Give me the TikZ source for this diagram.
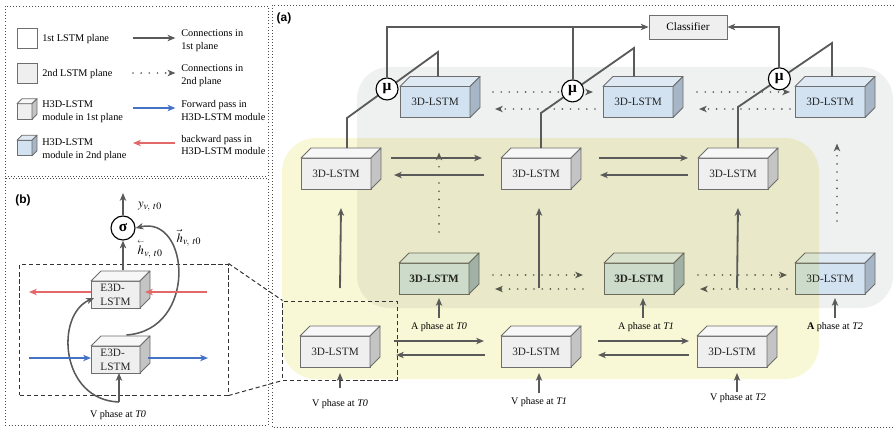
\documentclass[tikz,border=0pt]{standalone}
\usepackage{amsmath}
\usepackage{mathptmx}
\usepackage{fontspec}
\setmainfont{Liberation Serif}
\newfontfamily\panelfont{Liberation Sans}
\usetikzlibrary{arrows.meta,positioning,calc}
\definecolor{linegrey}{HTML}{5A5A5A}
\definecolor{cubeedge}{HTML}{6E6E6E}
\definecolor{greyfront}{HTML}{EFEFEF}
\definecolor{greytop}{HTML}{F7F7F7}
\definecolor{greyside}{HTML}{C4C4C4}
\definecolor{bluefront}{HTML}{D2E2F1}
\definecolor{bluetop}{HTML}{DFE9F4}
\definecolor{blueside}{HTML}{A6B6C6}
\definecolor{planegrey}{HTML}{EFF0F0}
\definecolor{planeyellow}{HTML}{F9F8D6}
\definecolor{fwdblue}{HTML}{4472C4}
\definecolor{bwdred}{HTML}{E4676A}

% depth faces (top and side) of a cube whose front is a node
\newcommand{\cubefaces}[3][10]{%
  \draw[cubeline,fill=#3top] (#2.north west) -- ([shift={(#1,-#1)}]#2.north west)
    -- ([shift={(#1,-#1)}]#2.north east) -- (#2.north east) -- cycle;
  \draw[cubeline,fill=#3side] (#2.north east) -- ([shift={(#1,-#1)}]#2.north east)
    -- ([shift={(#1,-#1)}]#2.south east) -- (#2.south east) -- cycle;
}

\begin{document}
\begin{tikzpicture}[x=0.025cm,y=-0.025cm,
    cube/.style={draw=cubeedge,line width=0.6pt,minimum width=1.75cm,minimum height=0.775cm,inner sep=0pt,outer sep=0pt,font=\fontsize{8}{9.5}\selectfont,text=black!85},
    ecube/.style={cube,minimum width=1.225cm,minimum height=0.675cm,align=left,font=\fontsize{8}{10}\selectfont},
    keycube/.style={cube,minimum width=0.375cm,minimum height=0.39cm},
    keybox/.style={draw=cubeedge,line width=0.6pt,minimum size=0.5cm,inner sep=0pt},
    cubeline/.style={draw=cubeedge,line width=0.6pt,line join=round},
    conn/.style={draw=linegrey,line width=1.3pt,-{Stealth[length=5.5pt,width=4.5pt,inset=1.5pt]}},
    dotconn/.style={conn,dash pattern=on 0pt off 5.8pt,line cap=round},
    fwd/.style={conn,draw=fwdblue,line width=1.6pt},
    bwd/.style={conn,draw=bwdred,line width=1.6pt},
    curve/.style={conn,line width=1.1pt},
    link/.style={draw=linegrey,line width=1.3pt},
    mu/.style={circle,draw=black,line width=0.8pt,fill=white,minimum size=0.55cm,inner sep=0pt,font=\bfseries\fontsize{11}{11}\selectfont},
    panel/.style={draw=black!70,line width=0.6pt,dash pattern=on 0.6pt off 1.6pt},
    zoomline/.style={draw=black!80,line width=0.7pt,dash pattern=on 3pt off 2pt},
    tag/.style={font=\panelfont\bfseries\fontsize{8.5}{10}\selectfont},
    key/.style={font=\fontsize{7.3}{9.2}\selectfont,anchor=west,align=left,inner sep=0pt},
    phase/.style={font=\fontsize{7.2}{8.5}\selectfont,inner sep=1pt},
    sym/.style={font=\fontsize{9}{10}\selectfont,inner sep=0pt}
  ]
    \useasboundingbox (0,0) rectangle (894,430);

    % Panel frames
    \draw[panel] (5,6) rectangle (268,176);
    \draw[panel] (5,178) rectangle (268,425);
    \draw[panel] (894,5) -| (272,427) -- (894,427);

    % Legend
    \node[keybox,fill=white] (k1) at (27,38) {};
    \node[keybox,fill=greyfront] (k2) at (27,73) {};
    \node[keycube,fill=greyfront] (k3) at (24.5,111.5) {};
    \cubefaces[5]{k3}{grey}
    \node[keycube,fill=bluefront] (k4) at (24.5,148) {};
    \cubefaces[5]{k4}{blue}
    \node[key] (t1) at (42,39) {1st LSTM plane};
    \node[key] (t2) at (42,74) {2nd LSTM plane};
    \node[key] (t3) at (42,111.5) {H3D-LSTM\\module in 1st plane};
    \node[key] (t4) at (42,150) {H3D-LSTM\\module in 2nd plane};
    \node[key] (t5) at (181,40.5) {Connections in\\1st plane};
    \node[key] (t6) at (181,76) {Connections in\\2nd plane};
    \node[key] (t7) at (181,110.5) {Forward pass in\\H3D-LSTM module};
    \node[key] (t8) at (181,145) {backward pass in\\H3D-LSTM module};
    \coordinate (ks1) at (133,38);
    \coordinate (ks2) at (133,73);
    \coordinate (ks3) at (133,108);
    \coordinate (ks4) at (133,143);
    \draw[conn,shorten >=4pt] (ks1) -- (ks1 -| t5.west);
    \draw[dotconn,shorten >=4pt] (ks2) -- (ks2 -| t6.west);
    \draw[fwd,shorten >=4pt] (ks3) -- (ks3 -| t7.west);
    \draw[bwd,shorten <=4pt] (ks4 -| t8.west) -- (ks4);

    % Panel (b): one H3D-LSTM module
    \node[tag] (lb) at (23,200) {(b)};
    \node[mu,minimum size=0.6cm] (sig) at (123,228) {σ};
    \coordinate (yout) at (123,193);
    \node[ecube,fill=greyfront] (e3t) at (115.5,294.5) {E3D-\\LSTM};
    \cubefaces{e3t}{grey}
    \node[ecube,fill=greyfront] (e3b) at (115.5,359.5) {E3D-\\LSTM};
    \cubefaces{e3b}{grey}
    \node[zoomline,minimum width=5.2cm,minimum height=3.275cm] (zb) at (124,329.5) {};
    \node[phase] (vlb) at (118,415) {V phase at \textit{T0}};
    \coordinate (vin) at (119,402);
    \draw[conn] (sig) -- (yout);
    \node[sym] (ylab) at (150,207) {$y_{v,\ t0}$};
    \draw[conn] ($(e3t.north)+(7.5,-11)$) -- (sig);
    \node[sym] (hb) at (150,249) {$\overset{\scriptscriptstyle\leftarrow}{h}_{v,\ t0}$};
    \node[sym] (hf) at (189,238) {$\vec{h}_{v,\ t0}$};
    \draw[curve] ($(e3b.north)+(11,-11)$) .. controls (198,330) and (190,215) .. (sig.east);
    \draw[curve] (vin) .. controls (60,400) and (55,315) .. ($(e3t.south west)+(3,-10)$);
    \draw[conn] (vin) -- (e3b.south -| vin);
    \coordinate (rin) at (207,292);
    \coordinate (rout) at (29,292);
    \draw[bwd] (rin) -- ($(rin -| e3t.east)+(5,0)$);
    \draw[bwd] (rin -| e3t.west) -- (rout);
    \coordinate (bin) at (29,358);
    \coordinate (bout) at (208,358);
    \draw[fwd] (bin) -- (bin -| e3b.west);
    \draw[fwd] ($(bin -| e3b.east)+(8,0)$) -- (bout);

    % Panel (a): planes
    \node[tag] (la) at (284,18) {(a)};
    \fill[planegrey,rounded corners=0.8cm] (357,67) rectangle (893,308);

    % 2nd plane modules
    \node[cube,fill=bluefront] (b0) at (435,102) {3D-LSTM};
    \cubefaces{b0}{blue}
    \node[cube,fill=bluefront] (b1) at (638,102) {3D-LSTM};
    \cubefaces{b1}{blue}
    \node[cube,fill=bluefront] (b2) at (830,102) {3D-LSTM};
    \cubefaces{b2}{blue}
    \node[cube,fill=bluefront,font=\bfseries\fontsize{8}{9.5}\selectfont] (a0) at (434,278.5) {3D-LSTM};
    \cubefaces{a0}{blue}
    \node[cube,fill=bluefront,font=\bfseries\fontsize{8}{9.5}\selectfont] (a1) at (639,278.5) {3D-LSTM};
    \cubefaces{a1}{blue}
    \node[cube,fill=bluefront] (a2) at (830,278.5) {3D-LSTM};
    \cubefaces{a2}{blue}

    % 2nd plane connections
    \draw[dotconn] ($(b0.east)+(23,-10)$) -- ($(b1.west)+(-10,-10)$);
    \draw[dotconn] ($(b1.west)+(-8,7)$) -- ($(b0.east)+(25,7)$);
    \draw[dotconn] ($(b1.east)+(24,-10)$) -- ($(b2.west)+(-5,-10)$);
    \draw[dotconn] ($(b2.west)+(-5,7)$) -- ($(b1.east)+(26,7)$);
    \draw[dotconn] ($(a0.east)+(24,-3.5)$) -- ($(a1.west)+(-21,-3.5)$);
    \draw[dotconn] ($(a1.west)+(-21,10.5)$) -- ($(a0.east)+(26,10.5)$);
    \draw[dotconn] ($(a1.east)+(24,-3.5)$) -- ($(a2.west)+(-8,-3.5)$);
    \draw[dotconn] ($(a2.west)+(-8,10.5)$) -- ($(a1.east)+(26,10.5)$);
    \draw[dotconn] ($(a0.north)+(5,-31)$) -- ($(b0.south)+(4,35)$);
    \draw[dotconn] ($(a2.north)+(7,-42)$) -- ($(b2.south)+(7,26)$);

    % 1st plane (yellow, laid over the 2nd plane)
    \fill[planeyellow,blend mode=multiply,rounded corners=0.85cm] (282,138) rectangle (819,379);
    \node[cube,fill=greyfront] (w0) at (336,173.5) {3D-LSTM};
    \cubefaces{w0}{grey}
    \node[cube,fill=greyfront] (w1) at (536,173.5) {3D-LSTM};
    \cubefaces{w1}{grey}
    \node[cube,fill=greyfront] (w2) at (733,173.5) {3D-LSTM};
    \cubefaces{w2}{grey}
    \node[cube,fill=greyfront] (v0) at (335,351.5) {3D-LSTM};
    \cubefaces{v0}{grey}
    \node[cube,fill=greyfront] (v1) at (536,351.5) {3D-LSTM};
    \cubefaces{v1}{grey}
    \node[cube,fill=greyfront] (v2) at (732,351.5) {3D-LSTM};
    \cubefaces{v2}{grey}

    % 1st plane connections
    \draw[conn] ($(w0.east)+(20,-15.5)$) -- ($(w1.west)+(-19,-15.5)$);
    \draw[conn] ($(w1.west)+(-17,1.5)$) -- ($(w0.east)+(23,1.5)$);
    \draw[conn] ($(w1.east)+(28,-15.5)$) -- ($(w2.west)+(-10,-15.5)$);
    \draw[conn] ($(w2.west)+(-10,1.5)$) -- ($(w1.east)+(29,1.5)$);
    \draw[conn] ($(v0.east)+(24,-10.5)$) -- ($(v1.west)+(-17,-10.5)$);
    \draw[conn] ($(v1.west)+(-16,3.5)$) -- ($(v0.east)+(26,3.5)$);
    \draw[conn] ($(v1.east)+(27,-10.5)$) -- ($(v2.west)+(-8,-10.5)$);
    \draw[conn] ($(v2.west)+(-8,3.5)$) -- ($(v1.east)+(27,3.5)$);
    \draw[conn] ($(v0.north)+(5,-48)$) -- ($(w0.south)+(5,19)$);
    \draw[conn] ($(v1.north)+(3,-48)$) -- ($(w1.south)+(3,19)$);
    \draw[conn] ($(v2.north)+(5,-48)$) -- ($(w2.south)+(5,19)$);

    % Inputs
    \node[phase] (vl0) at (340,404) {V phase at \textit{T0}};
    \node[phase] (vl1) at (539,402) {V phase at \textit{T1}};
    \node[phase] (vl2) at (738,398) {V phase at \textit{T2}};
    \node[phase] (al0) at (439,327) {A phase at \textit{T0}};
    \node[phase] (al1) at (646,327) {A phase at \textit{T1}};
    \node[phase] (al2) at (835,327) {\textbf{A} phase at \textit{T2}};
    \draw[conn] ($(v0.south)+(5,21)$) -- ($(v0.south)+(5,6)$);
    \draw[conn] ($(v1.south)+(3,26)$) -- ($(v1.south)+(3,6)$);
    \draw[conn] ($(v2.south)+(5,25)$) -- ($(v2.south)+(5,6)$);
    \draw[conn] ($(a0.south)+(5,24)$) -- ($(a0.south)+(5,4)$);
    \draw[conn] ($(a1.south)+(4,24)$) -- ($(a1.south)+(4,4)$);
    \draw[conn] ($(a2.south)+(5,24)$) -- ($(a2.south)+(5,4)$);

    % Zoomed module
    \node[zoomline,minimum width=2.85cm,minimum height=1.975cm] (za) at (340,340.5) {};
    \draw[zoomline] (zb.north east) -- (za.north west);
    \draw[zoomline] (zb.south east) -- (za.south west);

    % Fusion and classifier
    \coordinate (k0) at (347,118);
    \coordinate (j0) at (438,52);
    \coordinate (k1) at (541,113);
    \coordinate (j1) at (634,48);
    \coordinate (k2) at (738,107);
    \coordinate (j2) at (832,43);
    \draw[link] ($(w0.north)+(11,-10)$) -- (k0) -- (j0) -- ($(b0.north)+(3,-10)$);
    \draw[link] ($(w1.north)+(5,-10)$) -- (k1) -- (j1) -- ($(b1.north)+(-4,-10)$);
    \draw[link] ($(w2.north)+(5,-10)$) -- (k2) -- (j2) -- ($(b2.north)+(2,-10)$);
    \node[mu] (mu0) at ($(k0)!.44!(j0)$) {μ};
    \node[mu] (mu1) at ($(k1)!.34!(j1)$) {μ};
    \node[mu] (mu2) at ($(k2)!.44!(j2)$) {μ};
    \node[draw=cubeedge,line width=0.6pt,fill=greyfront,minimum width=1.95cm,minimum height=0.6cm,font=\fontsize{8}{9.5}\selectfont] (cls) at (688,27) {Classifier};
    \draw[conn] (mu0.north) |- (cls.west);
    \draw[link] (mu1.north) -- (mu1.north |- cls.west);
    \draw[conn] (mu2.north) |- (cls.east);
\end{tikzpicture}
\end{document}
